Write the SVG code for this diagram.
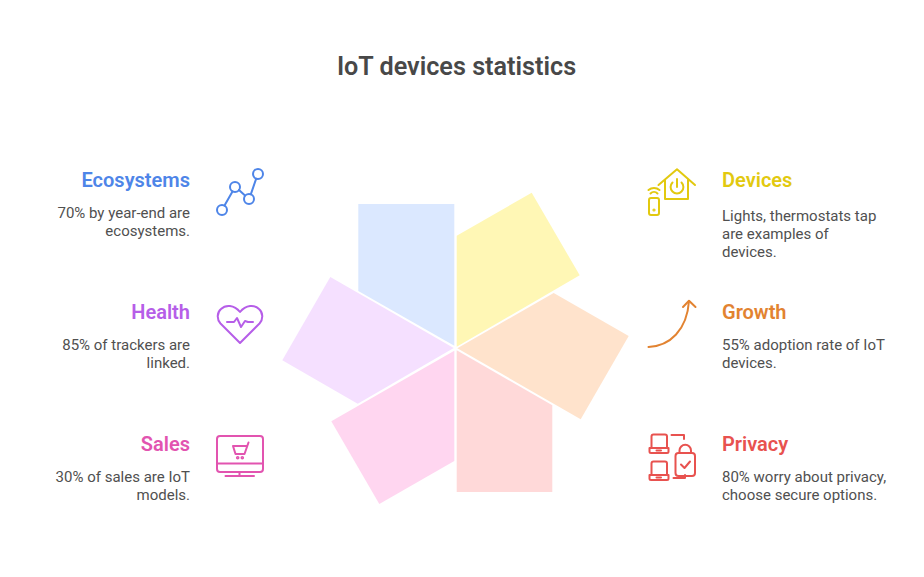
<svg xmlns="http://www.w3.org/2000/svg" width="924" height="577" viewBox="0 0 924 577">
<style>
text{font-family:Roboto,"Liberation Sans",sans-serif}
.t{font-size:25.200px;font-weight:600;fill:#484848}
.h{font-size:20px;font-weight:600}
.b{font-size:15px;fill:#505050}
.e{text-anchor:end}
.i{fill:none;stroke-width:2;stroke-linecap:round;stroke-linejoin:round}
</style>
<rect width="924" height="577" fill="#fff"/>
<text class="t" x="456.500" y="75" text-anchor="middle">IoT devices statistics</text>
<g id="petals">
<polygon id="petal-ecosystems" points="358.300,204 454.300,204 454.300,345.700 358.300,291" fill="#dbe8ff"/>
<polygon id="petal-devices" points="456.700,235.700 531.700,192.700 579.700,275.300 456.700,346.700" fill="#fff7b5"/>
<polygon id="petal-growth" points="553.700,293 628.700,336 580.700,419.300 457.300,348.300" fill="#ffe3cc"/>
<polygon id="petal-privacy" points="456.700,350.300 552.300,405.300 552.300,492 456.700,492" fill="#ffd9d9"/>
<polygon id="petal-sales" points="454.300,350.700 454.300,461 379.300,504 331.300,421.300" fill="#ffd6f0"/>
<polygon id="petal-health" points="330.300,277 453.700,348 357.700,403.700 282.300,360.300" fill="#f5e0ff"/>
</g>
<g id="ecosystems">
<text class="h e" x="190" y="187" fill="#4e85e8">Ecosystems</text>
<text class="b e" x="190" y="218">70% by year-end are</text>
<text class="b e" x="190" y="236">ecosystems.</text>
<g class="i" stroke="#4e85e8">
<circle cx="222" cy="210" r="5"/><circle cx="235" cy="187" r="5"/><circle cx="249" cy="199" r="5"/><circle cx="258" cy="174" r="5"/>
<path d="M224.500 205.600 232.500 191.400M239 190 245 195.500M250.800 194.300 256.200 178.700"/>
</g>
</g>
<g id="health">
<text class="h e" x="190" y="319" fill="#b65ee8">Health</text>
<text class="b e" x="190" y="350">85% of trackers are</text>
<text class="b e" x="190" y="368">linked.</text>
<g class="i" stroke="#b65ee8">
<path d="M240 343 220.500 323.500C216.500 319 217 312.500 221 309 225.500 304.500 234 304.500 240 312 246 304.500 254.500 304.500 259 309 263 312.500 263.500 319 259.500 323.500Z"/>
<path d="M227 322H234L237 318 241 327 245 321 248 322H253"/>
</g>
</g>
<g id="sales">
<text class="h e" x="190" y="451" fill="#e254b0">Sales</text>
<text class="b e" x="190" y="482">30% of sales are IoT</text>
<text class="b e" x="190" y="500">models.</text>
<g class="i" stroke="#e254b0">
<rect x="217" y="436" width="46" height="36" rx="3"/>
<path d="M217 463.500H263M239.500 472V476M225.500 476H254"/>
<path d="M248.500 442.500 244.500 454H235.500L233 446H247"/>
<circle cx="237.700" cy="457.700" r=".8"/><circle cx="242.300" cy="457.700" r=".8"/>
</g>
</g>
<g id="devices">
<text class="h" x="722" y="187" fill="#e2c90f">Devices</text>
<text class="b" x="722" y="221">Lights, thermostats tap</text>
<text class="b" x="722" y="239">are examples of</text>
<text class="b" x="722" y="257">devices.</text>
<g class="i" stroke="#e2c90f">
<path d="M658.500 185 677 169.300 695 185M665 180V199H688V180"/>
<path d="M672.500 182.500A6.400 6.400 0 1 0 681.500 182.500M677 179V187"/>
<rect x="649" y="198" width="10" height="17" rx="2"/>
<path d="M650.500 193.500A5 5 0 0 1 657.500 193.500M648.500 190A8.500 8.500 0 0 1 659.500 190"/>
<circle cx="654" cy="210" r=".6"/>
</g>
</g>
<g id="growth">
<text class="h" x="722" y="319" fill="#e28331">Growth</text>
<text class="b" x="722" y="350">55% adoption rate of IoT</text>
<text class="b" x="722" y="368">devices.</text>
<g class="i" stroke="#e28331">
<path d="M648.500 347C670 346 687 330 689 301"/>
<path d="M683 307 689 300.700 695.500 307"/>
</g>
</g>
<g id="privacy">
<text class="h" x="722" y="451" fill="#e8524f">Privacy</text>
<text class="b" x="722" y="482">80% worry about privacy,</text>
<text class="b" x="722" y="500">choose secure options.</text>
<g class="i" stroke="#e8524f">
<path d="M651.500 448V436.500Q651.500 434.500 653.500 434.500H665Q667 434.500 667 436.500V448M649.500 448H668.500V451.500Q668.500 453 667 453H651Q649.500 453 649.500 451.500ZM656.500 450.500H661"/>
<path d="M651.500 475V463.500Q651.500 461.500 653.500 461.500H665Q667 461.500 667 463.500V475M649.500 475H668.500V478.500Q668.500 480 667 480H651Q649.500 480 649.500 478.500ZM656.500 477.500H661"/>
<rect x="675.500" y="453" width="19.500" height="23" rx="3"/>
<path d="M679.500 453V450.500A5.700 5.700 0 0 1 691 450.500V453M681 464.500 684.500 468 690 461.500"/>
<path d="M671.500 435H684V439M673.500 478H685V475"/>
</g>
</g>
</svg>
